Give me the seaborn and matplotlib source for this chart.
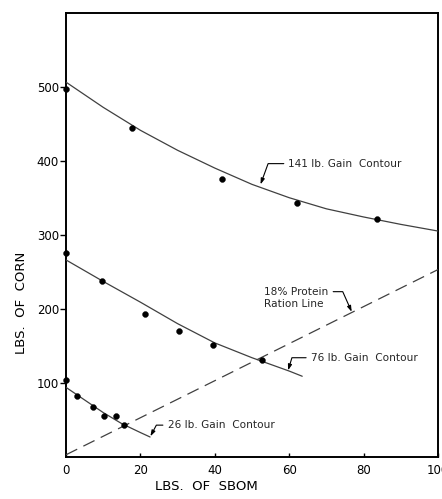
import numpy as np
import pandas as pd
import matplotlib
matplotlib.use("Agg")
import matplotlib.pyplot as plt
import seaborn as sns

# Observed feeding combinations (lbs SBOM, lbs corn) for each gain level
obs_141_x = [0, 17.7, 41.9, 62.1, 83.6]
obs_141_y = [497, 444, 375, 343, 321]
obs_76_x = [0, 9.6, 21.2, 30.5, 39.4, 52.7]
obs_76_y = [276, 237, 193, 170, 151, 131]
obs_26_x = [0, 3.0, 7.2, 10.3, 13.4, 15.7]
obs_26_y = [104, 83, 67, 55, 55, 43]

# Fitted iso-gain contours
fit_141_x = [0, 10, 20, 30, 40, 50, 60, 70, 80, 90, 100]
fit_141_y = [506, 472, 441, 414, 390, 368, 350, 335, 324, 314, 305]
fit_76_x = [0, 10, 20, 30, 40, 50, 60, 63.5]
fit_76_y = [266, 237, 209, 180, 154, 134, 116, 109]
fit_26_x = [0, 5, 10, 15, 20, 22.6]
fit_26_y = [94, 77, 60, 45, 33, 27]

# 18% protein ration line
ration_x = [0, 100]
ration_y = [3, 253]

x_ticks = [0, 20, 40, 60, 80, 100]
x_tick_labels = ["0", "20", "40", "60", "80", "100"]
y_ticks = [100, 200, 300, 400, 500]
y_tick_labels = ["100", "200", "300", "400", "500"]

sns.set_theme(style="white")
plt.rcParams["font.family"] = ["DejaVu Sans"]

fig = plt.figure(figsize=(4.42, 4.99), dpi=100)
ax = fig.add_axes([66 / 442, 1 - 457 / 499, (438 - 66) / 442, (457 - 12.5) / 499])

obs = pd.DataFrame({
    "sbom": obs_141_x + obs_76_x + obs_26_x,
    "corn": obs_141_y + obs_76_y + obs_26_y,
})
sns.scatterplot(data=obs, x="sbom", y="corn", ax=ax, color="black", s=18,
                edgecolor="black", linewidth=0.3, zorder=4, clip_on=False)

line_kw = dict(color="#404040", linewidth=0.9, ax=ax, zorder=3)
for fx, fy in [(fit_141_x, fit_141_y), (fit_76_x, fit_76_y), (fit_26_x, fit_26_y)]:
    sns.lineplot(x=fx, y=fy, **line_kw)

sns.lineplot(x=ration_x, y=ration_y, ax=ax, color="#404040", linewidth=0.9,
             zorder=3)
ax.lines[-1].set_dashes([10, 5.5])

ax.set_xlim(0, 100)
ax.set_ylim(0, 600)
ax.set_xticks(x_ticks)
ax.set_xticklabels(x_tick_labels)
ax.set_yticks(y_ticks)
ax.set_yticklabels(y_tick_labels)
ax.tick_params(axis="x", direction="in", length=3, width=1, pad=5,
               labelsize=8.5, colors="black", bottom=True)
ax.tick_params(axis="y", direction="out", length=4, width=1, pad=1,
               labelsize=8.5, colors="black", left=True)
for sp in ax.spines.values():
    sp.set_color("black")
    sp.set_linewidth(1.4)

ax.set_xlabel("")
ax.set_ylabel("")
fig.text(206 / 442, 1 - 487 / 499, "LBS.  OF  SBOM", ha="center", va="center",
         fontsize=9.5, color="black")
fig.text(22 / 442, 1 - 303 / 499, "LBS.  OF  CORN", ha="center", va="center",
         rotation=90, fontsize=9.5, color="black")

arrow = dict(arrowstyle="-|>,head_length=0.45,head_width=0.15", color="black",
             linewidth=0.8, shrinkA=1, shrinkB=0)
note_fs = 7.6

a = dict(arrow, connectionstyle="angle,angleA=0,angleB=70,rad=0", relpos=(0, 0.5))
ax.annotate("141 lb. Gain  Contour", xy=(52.3, 368), xytext=(59.8, 396),
            ha="left", va="center", fontsize=note_fs, arrowprops=a)

a = dict(arrow, connectionstyle="angle,angleA=0,angleB=73,rad=0", relpos=(0, 0.5))
ax.annotate("76 lb. Gain  Contour", xy=(59.7, 117), xytext=(65.8, 134),
            ha="left", va="center", fontsize=note_fs, arrowprops=a)

a = dict(arrow, connectionstyle="angle,angleA=0,angleB=62,rad=0", relpos=(0, 0.5))
ax.annotate("26 lb. Gain  Contour", xy=(22.7, 28), xytext=(27.3, 43),
            ha="left", va="center", fontsize=note_fs, arrowprops=a)

a = dict(arrow, connectionstyle="angle,angleA=0,angleB=114,rad=0", relpos=(1, 0.78))
ax.annotate("18% Protein\nRation Line", xy=(76.8, 196), xytext=(53.3, 215),
            ha="left", va="center", fontsize=note_fs, linespacing=1.2,
            arrowprops=a)

fig.savefig("out.png", dpi=100, facecolor="white")
